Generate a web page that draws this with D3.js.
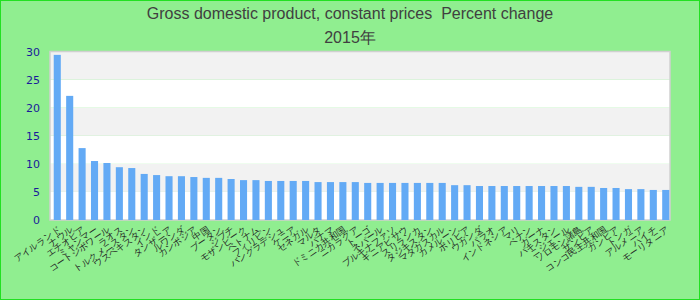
<!DOCTYPE html>
<html>
<head>
<meta charset="utf-8">
<script src="https://cdn.jsdelivr.net/npm/d3@7"></script>
<style>
  body { margin: 0; background: #fff; }
  svg { display: block; font-family: "Liberation Sans", Arial, sans-serif; }
  .title { white-space: pre; }
</style>
</head>
<body>
<svg id="chart" width="700" height="300"></svg>
<script>
const SVG = d3.select('#chart');

const titleLines = ['Gross domestic product, constant prices  Percent change', '2015年'];

const countries = [
    'アイルランド', 'ナウル', 'エチオピア', 'ミャンマー', 'コートジボワール',
    'ラオス', 'トルクメニスタン', 'ウズベキスタン', 'インド', 'タンザニア',
    'ルワンダ', 'カンボジア', '中国', 'ブータン', 'ジブチ',
    'モザンビーク', 'ベトナム', 'フィリピン', 'バングラデシュ', 'ケニア',
    'セネガル', 'マルタ', 'パナマ', 'ドミニカ共和国', 'ニカラグア',
    'トーゴ', 'ネパール', 'ブルキナファソ', 'ギニアビサウ', 'スリランカ',
    'タジキスタン', 'マダガスカル', 'カメルーン', 'ボリビア', 'ウガンダ',
    'パラオ', 'インドネシア', 'マリ', 'ベナン', 'ガーナ',
    'パキスタン', 'ニジェール', 'ソロモン諸島', 'ザンビア', 'コンゴ民主共和国',
    'ガンビア', 'トンガ', 'アルメニア', 'ハイチ', 'モーリタニア'
];

const growth = [
    29.4, 22.1, 12.8, 10.5, 10.15, 9.4, 9.25, 8.2, 8.0, 7.8,
    7.8, 7.65, 7.5, 7.5, 7.3, 7.1, 7.1, 6.95, 6.95, 6.95,
    6.95, 6.75, 6.75, 6.75, 6.75, 6.6, 6.6, 6.6, 6.6, 6.6,
    6.6, 6.6, 6.2, 6.2, 6.05, 6.05, 6.05, 6.05, 6.05, 6.05,
    6.05, 6.05, 5.9, 5.9, 5.7, 5.7, 5.5, 5.5, 5.35, 5.35
];

const yTicks = [0, 5, 10, 15, 20, 25, 30];

let data = countries.map((name, i) => ({ name: name, value: growth[i] }));

// page frame
SVG.append('rect')
    .attr('x', 0.5).attr('y', 0.5)
    .attr('width', 699).attr('height', 299)
    .attr('fill', '#90ee90')
    .attr('stroke', '#22e022');

SVG.selectAll('text.title')
    .data(titleLines)
    .enter().append('text')
    .attr('class', 'title')
    .attr('x', 350)
    .attr('y', (d, i) => 19 + i * 24)
    .attr('text-anchor', 'middle')
    .attr('font-size', 16)
    .attr('fill', '#404040')
    .text(d => d);

let plot = { left: 50, right: 670, top: 51.5, bottom: 220 };

let x = d3.scaleBand()
    .domain(countries)
    .range([51, 672])
    .paddingInner(0.43)
    .paddingOuter(0.22);

let y = d3.scaleLinear()
    .domain([0, 30])
    .range([plot.bottom, plot.top]);

// alternating bands
let bands = yTicks.slice(0, -1).map((t, i) => ({ lo: t, hi: yTicks[i + 1], i: i }));
SVG.append('g').selectAll('rect')
    .data(bands)
    .enter().append('rect')
    .attr('x', plot.left)
    .attr('y', d => y(d.hi))
    .attr('width', plot.right - plot.left)
    .attr('height', d => y(d.lo) - y(d.hi))
    .attr('fill', d => d.i % 2 ? '#f2f2f2' : '#ffffff');

SVG.append('rect')
    .attr('x', plot.left).attr('y', plot.top)
    .attr('width', plot.right - plot.left)
    .attr('height', plot.bottom - plot.top)
    .attr('fill', 'none')
    .attr('stroke', '#d0d0d0')
    .attr('stroke-width', 1.5);

SVG.append('g').selectAll('rect')
    .data(data)
    .enter().append('rect')
    .attr('x', d => x(d.name))
    .attr('y', d => y(d.value))
    .attr('width', x.bandwidth())
    .attr('height', d => y(0) - y(d.value))
    .attr('fill', '#63aaf5');

// y axis
let yAxis = SVG.append('g')
    .attr('transform', `translate(${plot.left - 10},0)`)
    .call(d3.axisLeft(y).tickValues(yTicks).tickSize(0).tickPadding(0));
yAxis.select('.domain').remove();
yAxis.selectAll('text')
    .attr('font-size', 11)
    .attr('font-family', '"DejaVu Sans", sans-serif')
    .attr('fill', '#1a1a9a');

// x axis
let xAxis = SVG.append('g')
    .attr('transform', `translate(0,${plot.bottom + 6})`)
    .call(d3.axisBottom(x).tickSize(0).tickPadding(0));
xAxis.select('.domain').remove();
xAxis.selectAll('text')
    .attr('font-size', 9)
    .attr('fill', '#222')
    .attr('text-anchor', 'end')
    .attr('dy', '0.7em')
    .attr('transform', 'rotate(-35)');
</script>
</body>
</html>
